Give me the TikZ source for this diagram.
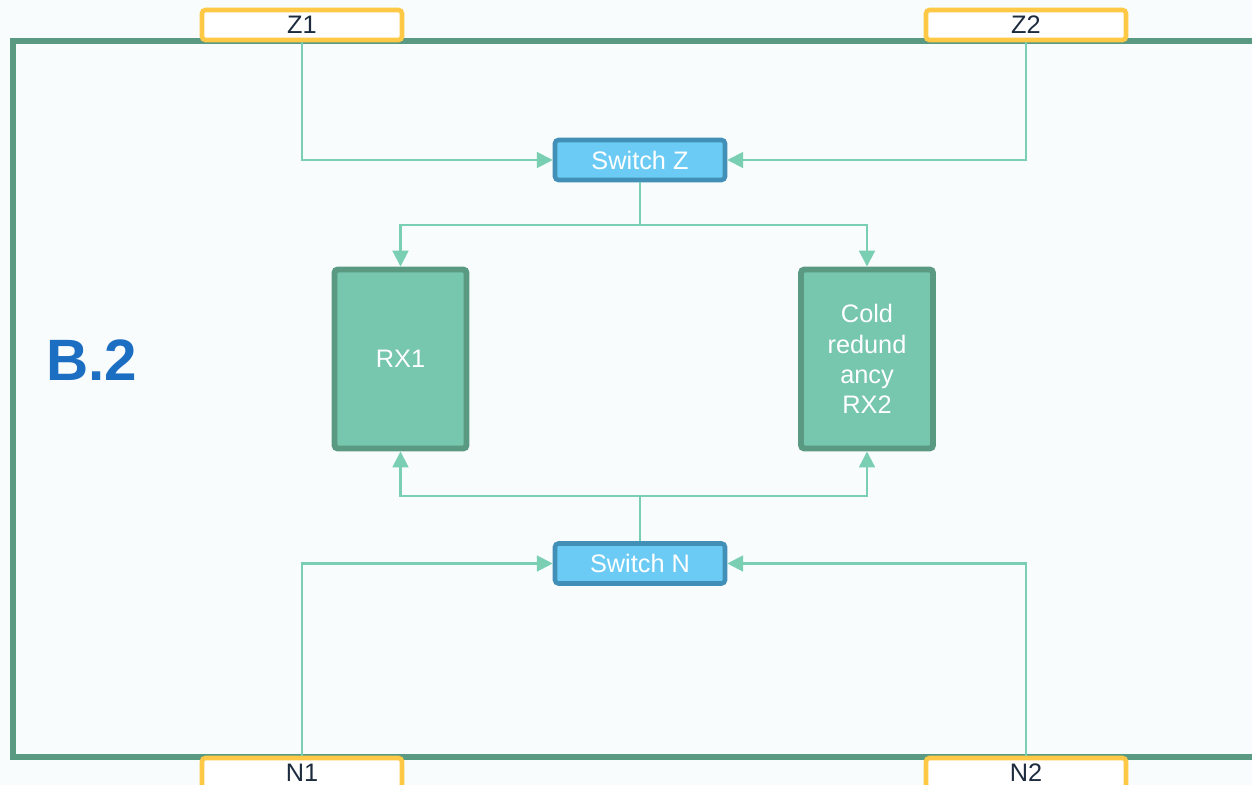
\documentclass[tikz,border=0pt]{standalone}
\usepackage{fontspec}
\setmainfont{Liberation Sans}
\usetikzlibrary{positioning,arrows.meta}
\definecolor{FrameGreen}{HTML}{5B9A82}
\definecolor{BoxGreen}{HTML}{77C6AE}
\definecolor{LinkGreen}{HTML}{7ACFB2}
\definecolor{PortGold}{HTML}{FFC845}
\definecolor{SwitchBlue}{HTML}{6CCBF4}
\definecolor{SwitchEdge}{HTML}{4290B8}
\definecolor{InkNavy}{HTML}{1D2B3E}
\definecolor{TitleBlue}{HTML}{1B6EC2}
\definecolor{PaperTint}{HTML}{F8FCFD}

\begin{document}
\begin{tikzpicture}[
    port/.style={draw=PortGold,line width=1.3pt,fill=white,rounded corners=1pt,
      minimum width=2.0cm,minimum height=0.3cm,inner sep=0pt,text=InkNavy,
      font=\fontsize{7.2}{8.6}\selectfont},
    switchbox/.style={draw=SwitchEdge,line width=1.3pt,fill=SwitchBlue,rounded corners=1pt,
      minimum width=1.70cm,minimum height=0.40cm,inner sep=0pt,text=white,
      font=\fontsize{7.2}{8.6}\selectfont},
    rxbox/.style={draw=FrameGreen,line width=1.7pt,fill=BoxGreen,rounded corners=1pt,
      minimum width=1.32cm,minimum height=1.79cm,inner sep=0pt,text=white,align=center,
      font=\fontsize{7.2}{8.6}\selectfont},
    link/.style={LinkGreen,line width=0.6pt,-{Triangle[length=4.5pt,width=4.5pt]}}]
  \useasboundingbox[fill=PaperTint] (0,0) rectangle (12.52,-7.85);
  % outer frame, open to the right
  \draw[FrameGreen,line width=1.7pt] (12.6,-0.41) -- (0.13,-0.41) -- (0.13,-7.57) -- (12.6,-7.57);
  \node[font=\bfseries\fontsize{16.6}{18}\selectfont,text=TitleBlue] (title) at (0.92,-3.60) {B.2};

  \node[port] (z1) at (3.02,-0.25) {Z1};
  \node[port] (z2) at (10.26,-0.25) {Z2};
  \node[port] (n1) at (3.02,-7.73) {N1};
  \node[port] (n2) at (10.26,-7.73) {N2};

  \node[switchbox] (swz) at (6.40,-1.60) {Switch Z};
  \node[switchbox] (swn) at (6.40,-5.635) {Switch N};

  \node[rxbox] (rx1) at (4.005,-3.59) {RX1};
  \node[rxbox] (rx2) at (8.67,-3.59) {Cold\\redund\\ancy\\RX2};

  \coordinate (zsplit) at (6.40,-2.25);
  \coordinate (nsplit) at (6.40,-4.96);

  \draw[link] (z1) |- (swz);
  \draw[link] (z2) |- (swz);
  \draw[LinkGreen,line width=0.6pt] (swz) -- (zsplit);
  \draw[link] (zsplit) -| (rx1);
  \draw[link] (zsplit) -| (rx2);

  \draw[link] (n1) |- (swn);
  \draw[link] (n2) |- (swn);
  \draw[LinkGreen,line width=0.6pt] (swn) -- (nsplit);
  \draw[link] (nsplit) -| (rx1);
  \draw[link] (nsplit) -| (rx2);
\end{tikzpicture}
\end{document}
